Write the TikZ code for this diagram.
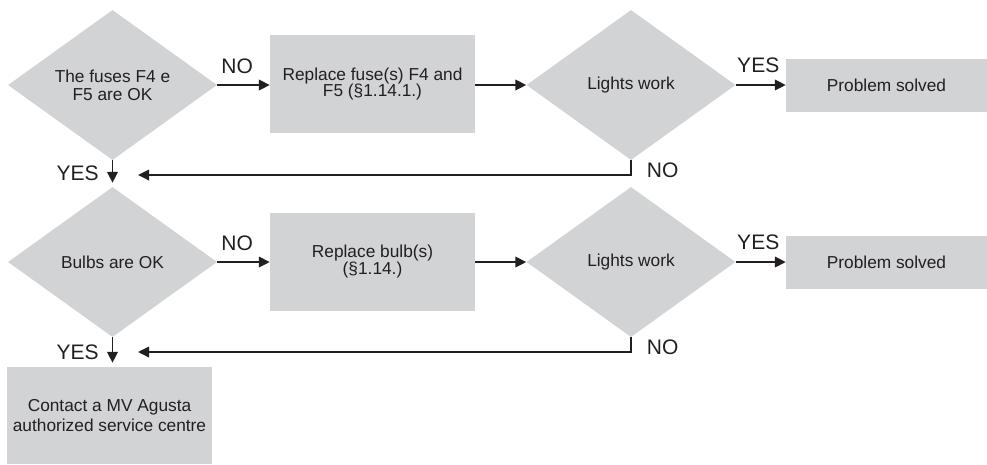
\documentclass[tikz,border=0pt]{standalone}
\usepackage{fontspec}
\setmainfont{Liberation Sans}
\usepackage{xcolor}
\definecolor{chartFill}{HTML}{D1D3D4}
\definecolor{chartInk}{HTML}{231F20}
\usetikzlibrary{shapes.geometric,arrows.meta}

\begin{document}
\begin{tikzpicture}[x=1pt, y=-1pt,
  decision/.style={diamond, fill=chartFill, draw=none, minimum width=209pt, minimum height=150pt, inner sep=0pt, align=center, text=chartInk, font=\fontsize{17.3}{18}\selectfont},
  action/.style={rectangle, fill=chartFill, draw=none, minimum width=205pt, minimum height=98pt, inner sep=0pt, align=center, text=chartInk, font=\fontsize{17.3}{16.5}\selectfont},
  outcome/.style={action, minimum width=201pt, minimum height=53pt},
  answer/.style={inner sep=0pt, text=chartInk, font=\fontsize{21}{21}\selectfont},
  flow/.style={chartInk, line width=1.8pt, -{Triangle[length=11pt, width=10.5pt]}}]
  \useasboundingbox (0,0) rectangle (987,464);
  % first check: fuses
  \node[decision] (fuses) at (112.5,85) {The fuses F4 e\\F5 are OK};
  \node[action] (repfuse) at (372.5,84) {Replace fuse(s) F4 and\\F5 (§1.14.1.)};
  \node[decision] (lightsA) at (631,85) {Lights work};
  \node[outcome] (solvedA) at (886.5,85) {Problem solved};
  \coordinate (backA) at (138,175);
  % second check: bulbs
  \node[decision] (bulbs) at (112.5,262) {Bulbs are OK};
  \node[action] (repbulb) at (372.5,261.5) {Replace bulb(s)\\(§1.14.)};
  \node[decision] (lightsB) at (631,262) {Lights work};
  \node[outcome] (solvedB) at (886.5,262.5) {Problem solved};
  \coordinate (backB) at (138,352);
  \node[action, minimum height=97pt, font=\fontsize{17.3}{20}\selectfont] (dealer) at (109.5,415.5) {Contact a MV Agusta\\authorized service centre};
  % connectors
  \draw[flow] (fuses.east) -- node[answer, above=10pt, pos=0.38] {NO} (repfuse.west |- fuses.east);
  \draw[flow] (repfuse.east |- lightsA.west) -- (lightsA.west);
  \draw[flow] (lightsA.east) -- node[answer, above=11pt, pos=0.45] {YES} (solvedA.west |- lightsA.east);
  \draw[flow] (lightsA.south) |- node[answer, right=15pt, pos=0.35] {NO} (backA);
  \draw[flow, shorten >=4pt] (fuses.south) -- node[answer, left=13pt] {YES} (bulbs.north);
  \draw[flow] (bulbs.east) -- node[answer, above=10pt, pos=0.38] {NO} (repbulb.west |- bulbs.east);
  \draw[flow] (repbulb.east |- lightsB.west) -- (lightsB.west);
  \draw[flow] (lightsB.east) -- node[answer, above=11pt, pos=0.45] {YES} (solvedB.west |- lightsB.east);
  \draw[flow] (lightsB.south) |- node[answer, right=15pt, pos=0.35] {NO} (backB);
  \draw[flow, shorten >=4pt] (bulbs.south) -- node[answer, left=13pt] {YES} (bulbs.south |- dealer.north);
\end{tikzpicture}
\end{document}
